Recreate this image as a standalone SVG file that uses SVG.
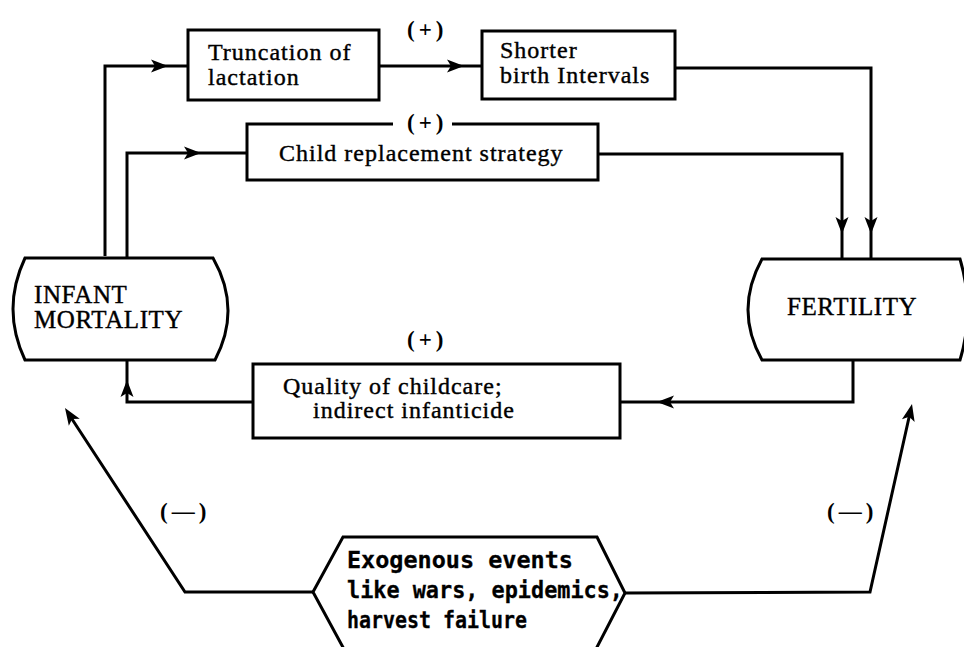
<svg xmlns="http://www.w3.org/2000/svg" xmlns:xlink="http://www.w3.org/1999/xlink" width="964" height="647" viewBox="0 0 964 647">
<style>
  .box { fill: #fff; stroke: #000; stroke-width: 3; }
  .ln { fill: none; stroke: #000; stroke-width: 3; stroke-linejoin: miter; }
  .t { font-family: "Liberation Serif", "Times New Roman", serif; font-size: 24px; letter-spacing: 1px; fill: #000; stroke: #000; stroke-width: 0.4; }
  .cap { font-family: "Liberation Serif", "Times New Roman", serif; font-size: 25px; letter-spacing: 0.6px; fill: #000; stroke: #000; stroke-width: 0.4; }
  .sign { font-family: "Liberation Serif", "Times New Roman", serif; font-size: 23px; font-weight: bold; letter-spacing: 4px; fill: #000; }
  .exo { font-family: "DejaVu Sans Mono", "Liberation Mono", monospace; font-size: 23px; font-weight: bold; fill: #000; stroke: #000; stroke-width: 0.3; }
</style>
<defs>
  <path id="ah" d="M0,0 L-17,-6.5 L-13,0 L-17,6.5 Z" fill="#000"/>
</defs>
<rect width="964" height="647" fill="#fff"/>

<g id="truncation">
  <rect class="box" x="188" y="30" width="191" height="70"/>
  <text class="t" x="208" y="60">Truncation of</text>
  <text class="t" x="208" y="85">lactation</text>
</g>

<g id="shorter">
  <rect class="box" x="482" y="31" width="193" height="68"/>
  <text class="t" x="500" y="58">Shorter</text>
  <text class="t" x="500" y="83">birth Intervals</text>
</g>

<g id="child-replacement">
  <polyline class="ln" points="393,124 247,124 247,180 598,180 598,124 452,124"/>
  <text class="t" x="279" y="161">Child replacement strategy</text>
</g>

<g id="infant-mortality">
  <path class="box" d="M25,258 L213,258 Q242,309 215,360 L25,360 Q1,309 25,258 Z"/>
  <text class="cap" x="34" y="303">INFANT</text>
  <text class="cap" x="34" y="328">MORTALITY</text>
</g>

<g id="fertility">
  <path class="box" d="M762,259 L960,259 Q975,310 960,360 L762,360 Q734,310 762,259 Z"/>
  <text class="cap" x="787" y="315">FERTILITY</text>
</g>

<g id="quality">
  <rect class="box" x="253" y="364" width="367" height="74"/>
  <text class="t" x="283" y="394">Quality of childcare;</text>
  <text class="t" x="313" y="418">indirect infanticide</text>
</g>

<g id="exogenous">
  <path class="box" d="M343,537 L597,537 L625,593 L595,651 L345,651 L313,592 Z"/>
  <text class="exo" x="347" y="568" textLength="226" lengthAdjust="spacingAndGlyphs">Exogenous events</text>
  <text class="exo" x="347" y="598" textLength="276" lengthAdjust="spacingAndGlyphs">like wars, epidemics,</text>
  <text class="exo" x="347" y="628" textLength="180" lengthAdjust="spacingAndGlyphs">harvest failure</text>
</g>

<g id="connectors">
  <!-- Infant mortality -> Truncation of lactation -->
  <polyline class="ln" points="105,256 105,66 188,66"/>
  <use xlink:href="#ah" transform="translate(168,66)"/>
  <!-- Truncation -> Shorter birth intervals -->
  <line class="ln" x1="379" y1="66" x2="482" y2="66"/>
  <use xlink:href="#ah" transform="translate(464,66)"/>
  <!-- Infant mortality -> Child replacement -->
  <polyline class="ln" points="127,258 127,153 247,153"/>
  <use xlink:href="#ah" transform="translate(201,153)"/>
  <!-- Shorter birth intervals -> Fertility -->
  <polyline class="ln" points="675,68 871,68 871,259"/>
  <use xlink:href="#ah" transform="translate(871,234) rotate(90)"/>
  <!-- Child replacement -> Fertility -->
  <polyline class="ln" points="598,154 842,154 842,259"/>
  <use xlink:href="#ah" transform="translate(842,234) rotate(90)"/>
  <!-- Fertility -> Quality of childcare -->
  <polyline class="ln" points="853,360 853,402 620,402"/>
  <use xlink:href="#ah" transform="translate(657,402) rotate(180)"/>
  <!-- Quality of childcare -> Infant mortality -->
  <polyline class="ln" points="253,402 127,402 127,360"/>
  <use xlink:href="#ah" transform="translate(127,380) rotate(-90)"/>
  <!-- Exogenous -> Infant mortality -->
  <polyline class="ln" points="313,592 185,592 70,416"/>
  <use xlink:href="#ah" transform="translate(65,408) rotate(-123.1)"/>
  <!-- Exogenous -> Fertility -->
  <polyline class="ln" points="625,593 870,592 910,413"/>
  <use xlink:href="#ah" transform="translate(912,404) rotate(-77.4)"/>
  <!-- signs -->
  <text class="sign" x="407" y="37">(+)</text>
  <text class="sign" x="407" y="130">(+)</text>
  <text class="sign" x="407" y="347">(+)</text>
  <text class="sign" x="160" y="519" letter-spacing="0">(—)</text>
  <text class="sign" x="827" y="519" letter-spacing="0">(—)</text>
</g>
</svg>
